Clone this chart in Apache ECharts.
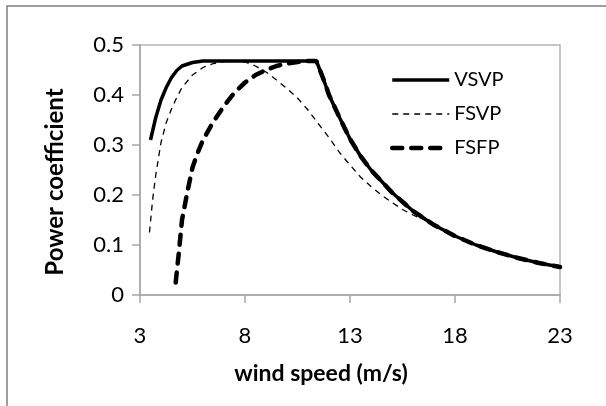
<!DOCTYPE html>
<html>
<head>
<meta charset="utf-8">
<script src="https://cdn.jsdelivr.net/npm/echarts@6/dist/echarts.min.js"></script>
<style>
  html, body { margin: 0; padding: 0; background: #fff; }
  #box1 { width: 606px; height: 406px; }
</style>
</head>
<body>
<div id="box1"></div>
<script>
// wind speed (m/s) and power coefficient
var vsvpSpeed = [3.5, 3.75, 4, 4.25, 4.5, 4.75, 5, 5.5, 6, 11.4, 11.75, 12, 12.5, 13, 13.5, 14, 15, 16, 17, 18, 19, 20, 21, 22, 23];
var vsvpCp = [0.31, 0.355, 0.39, 0.415, 0.435, 0.449, 0.458, 0.465, 0.468, 0.468, 0.43, 0.40, 0.355, 0.312, 0.278, 0.25, 0.205, 0.168, 0.14, 0.118, 0.10, 0.086, 0.074, 0.064, 0.056];

var fsvpSpeed = [3.45, 3.6, 3.75, 4, 4.25, 4.5, 4.75, 5, 5.5, 6, 6.5, 7, 7.5, 8, 8.5, 9, 9.5, 10, 10.5, 11, 11.5, 12, 12.5, 13, 13.5, 14, 14.5, 15, 15.5, 16, 16.5, 17, 18, 19, 20, 21, 22, 23];
var fsvpCp = [0.125, 0.19, 0.24, 0.305, 0.345, 0.372, 0.395, 0.415, 0.44, 0.455, 0.463, 0.467, 0.468, 0.466, 0.458, 0.446, 0.43, 0.413, 0.394, 0.37, 0.342, 0.315, 0.285, 0.26, 0.236, 0.217, 0.2, 0.185, 0.171, 0.16, 0.151, 0.139, 0.117, 0.10, 0.086, 0.074, 0.064, 0.056];

var fsfpSpeed = [4.7, 4.85, 5, 5.25, 5.5, 5.75, 6, 6.5, 7, 7.5, 8, 8.5, 9, 9.5, 10, 10.5, 11, 11.4, 11.75, 12, 12.5, 13, 13.5, 14, 15, 16, 17, 18, 19, 20, 21, 22, 23];
var fsfpCp = [0.025, 0.085, 0.15, 0.205, 0.255, 0.285, 0.31, 0.347, 0.378, 0.405, 0.425, 0.44, 0.45, 0.458, 0.463, 0.466, 0.468, 0.468, 0.43, 0.40, 0.355, 0.312, 0.278, 0.25, 0.205, 0.168, 0.14, 0.118, 0.10, 0.086, 0.074, 0.064, 0.056];

var seriesNames = ['VSVP', 'FSVP', 'FSFP'];
var xTicks = [3, 8, 13, 18, 23];

function pairs(xs, ys) {
    var out = [];
    for (var i = 0; i < xs.length; i++) {
        out.push([xs[i], ys[i]]);
    }
    return out;
}

var fontName = 'Lato';
var cp_chart = echarts.init(document.getElementById('box1'));

var cp_option = {
    animation: false,
    backgroundColor: '#fff',
    textStyle: { fontFamily: fontName },
    grid: {
        left: 140,
        right: 46,
        top: 45,
        bottom: 111,
        show: true,
        borderColor: '#b5b5b5',
        borderWidth: 1.5
    },
    legend: {
        orient: 'vertical',
        left: 390,
        top: 70,
        padding: 0,
        itemWidth: 57,
        itemHeight: 20,
        itemGap: 14,
        itemStyle: { color: 'transparent', borderColor: 'transparent', borderWidth: 0, opacity: 0 },
        lineStyle: { width: 'inherit', type: 'inherit', cap: 'inherit' },
        textStyle: { fontFamily: fontName, fontSize: 20, color: '#000' },
        data: seriesNames
    },
    xAxis: {
        type: 'value',
        min: xTicks[0],
        max: xTicks[xTicks.length - 1],
        interval: 5,
        splitLine: { show: false },
        axisLine: { lineStyle: { color: '#a6a6a6', width: 1.5 } },
        axisTick: { show: true, length: 8, lineStyle: { color: '#a6a6a6', width: 1.5 } },
        axisLabel: { margin: 30, fontSize: 22, color: '#000', fontFamily: fontName }
    },
    yAxis: {
        type: 'value',
        min: 0,
        max: 0.5,
        interval: 0.1,
        splitLine: { show: false },
        axisLine: { show: true, lineStyle: { color: '#a6a6a6', width: 1.5 } },
        axisTick: { show: true, length: 8, lineStyle: { color: '#a6a6a6', width: 1.5 } },
        axisLabel: { margin: 16, fontSize: 22, color: '#000', fontFamily: fontName }
    },
    graphic: [
        {
            type: 'rect',
            z: -10,
            shape: { x: 7, y: 6, width: 640, height: 450 },
            style: { fill: 'none', stroke: '#7f7f7f', lineWidth: 1.5 }
        },
        {
            type: 'text',
            x: 321, y: 374,
            style: {
                text: 'wind speed (m/s)',
                fontFamily: fontName, fontSize: 23, fontWeight: 'bold', fill: '#000',
                textAlign: 'center', textVerticalAlign: 'middle'
            }
        },
        {
            type: 'text',
            x: 55, y: 182,
            rotation: Math.PI / 2,
            style: {
                text: 'Power coefficient',
                fontFamily: fontName, fontSize: 24, fontWeight: 'bold', fill: '#000',
                textAlign: 'center', textVerticalAlign: 'middle'
            }
        }
    ],
    series: [
        {
            name: seriesNames[0],
            type: 'line',
            symbol: 'none',
            data: pairs(vsvpSpeed, vsvpCp),
            itemStyle: { color: '#000' },
            lineStyle: { color: '#000', width: 3.5, type: 'solid' },
            z: 3
        },
        {
            name: seriesNames[1],
            type: 'line',
            symbol: 'none',
            data: pairs(fsvpSpeed, fsvpCp),
            itemStyle: { color: '#000' },
            lineStyle: { color: '#000', width: 1.3, type: [6, 5] },
            z: 2
        },
        {
            name: seriesNames[2],
            type: 'line',
            symbol: 'none',
            data: pairs(fsfpSpeed, fsfpCp),
            itemStyle: { color: '#000' },
            lineStyle: { color: '#000', width: 4.5, type: [10, 9], cap: 'round' },
            z: 2
        }
    ]
};

cp_chart.setOption(cp_option);
</script>
</body>
</html>
